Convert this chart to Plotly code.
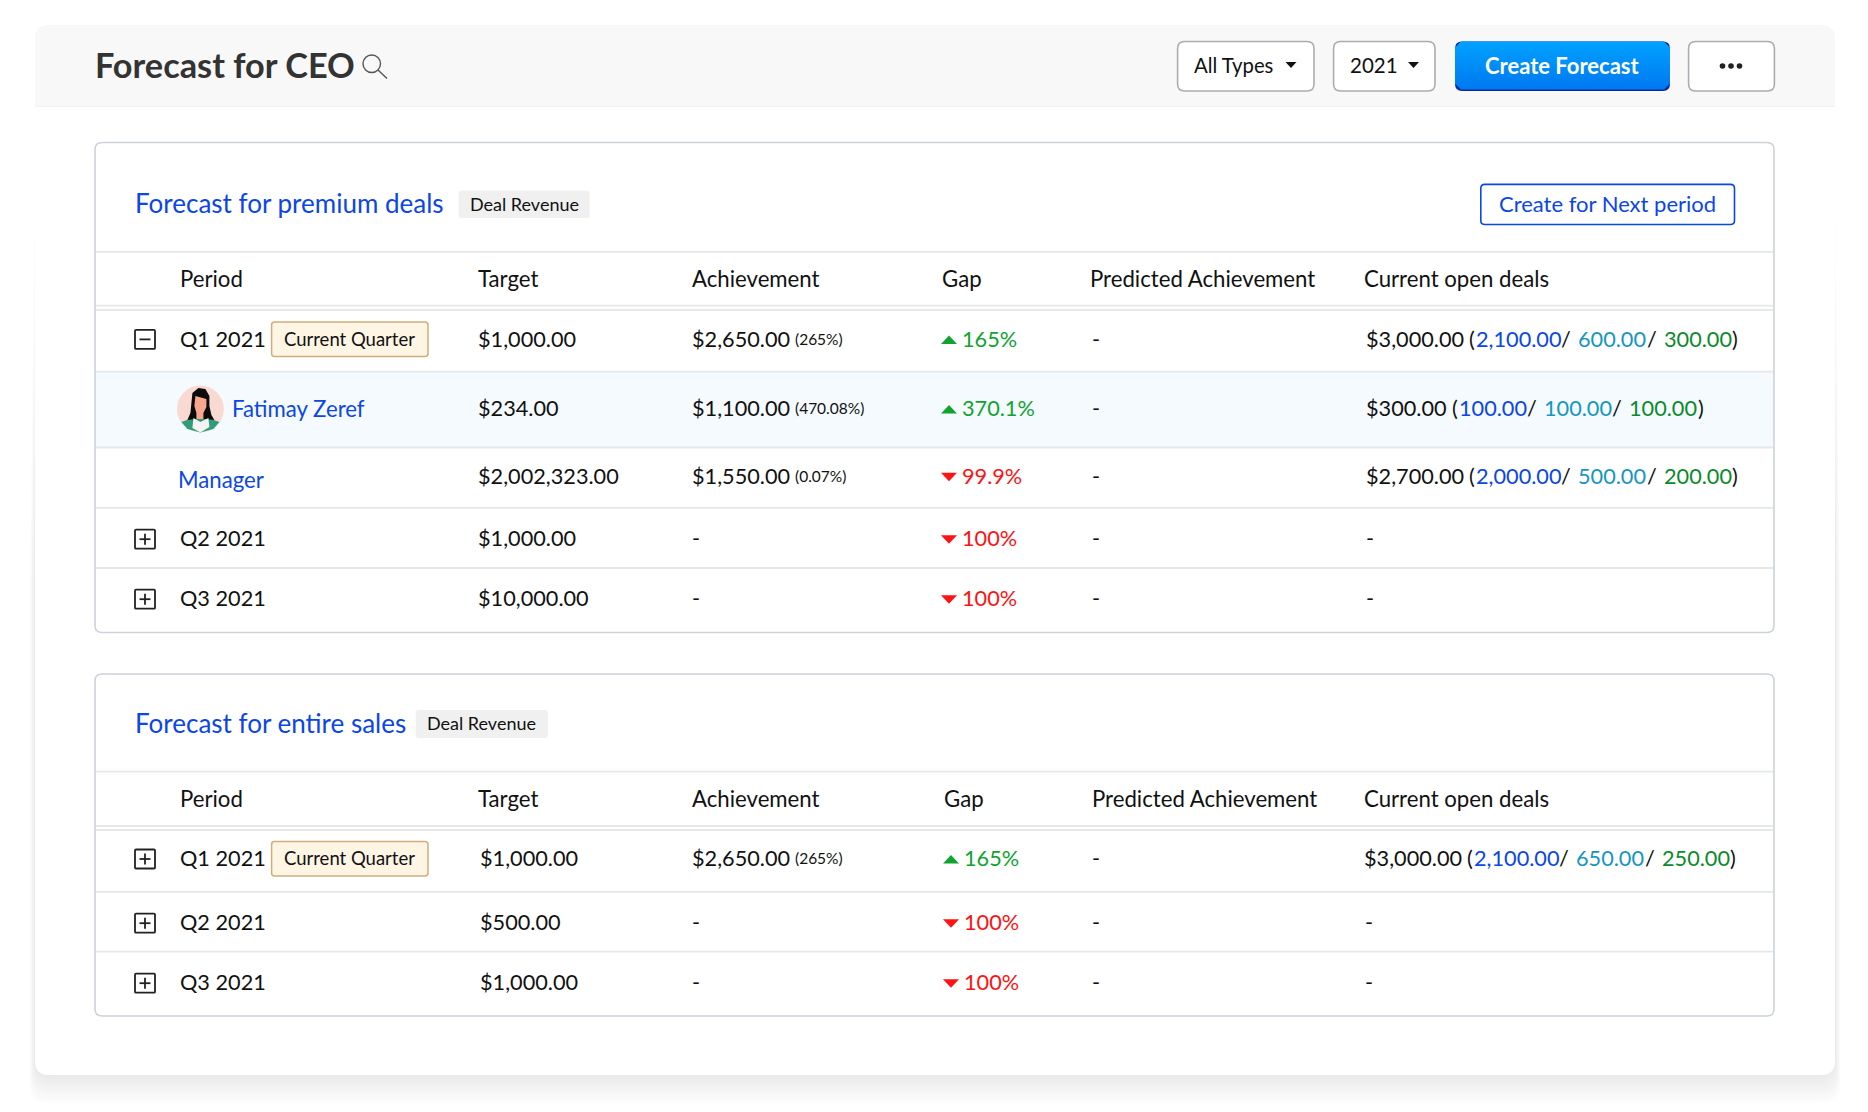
"""
Forecast for CEO panel, rebuilt with plotly shapes and annotations.
"""

import plotly.graph_objects as go

WIDTH, HEIGHT = 1868, 1112
FONT = "Lato"

INK = "#111111"
BLUE = "#0b46e6"
TEAL = "#1596c2"
DEAL_GREEN = "#0b8a2c"
UP = "#10a32f"
DOWN = "#ff1212"
RULE = "#e5e7e9"
EDGE = "#cdd2da"

COLUMNS = ["Period", "Target", "Achievement", "Gap", "Predicted Achievement", "Current open deals"]

# open deals are (total, blue part, teal part, green part)
PANELS = [
    {
        "title": "Forecast for premium deals",
        "box": (142.5, 632.5),
        "title_y": 203,
        "badge": (458.6, 589.6, 190.4, 218),
        "header_y": 278,
        "rules": [251.8, 305.7, 310, 371.6, 447.5, 507.8, 568],
        "gap_dx": 0,
        "target_x": 478.3,
        "deal_dx": 0,
        "rows": [
            dict(y=338.6, icon="-", period="Q1 2021", current=True, target="$1,000.00", achieved="$2,650.00", pct="(265%)",
                 gap=("up", "165%"), deals=("$3,000.00", "2,100.00", "600.00", "300.00")),
            dict(y=408.2, person="Fatimay Zeref", target="$234.00", achieved="$1,100.00", pct="(470.08%)",
                 gap=("up", "370.1%"), deals=("$300.00", "100.00", "100.00", "100.00")),
            dict(y=476, manager="Manager", target="$2,002,323.00", achieved="$1,550.00", pct="(0.07%)",
                 gap=("down", "99.9%"), deals=("$2,700.00", "2,000.00", "500.00", "200.00")),
            dict(y=538.4, icon="+", period="Q2 2021", target="$1,000.00", gap=("down", "100%")),
            dict(y=598.4, icon="+", period="Q3 2021", target="$10,000.00", gap=("down", "100%")),
        ],
    },
    {
        "title": "Forecast for entire sales",
        "box": (674, 1016),
        "title_y": 723,
        "badge": (415.7, 548, 710, 738),
        "header_y": 798,
        "rules": [771.6, 826, 830, 891.8, 951.7],
        "gap_dx": 2,
        "target_x": 479.8,
        "deal_dx": -2,
        "rows": [
            dict(y=858.2, icon="+", period="Q1 2021", current=True, target="$1,000.00", achieved="$2,650.00", pct="(265%)",
                 gap=("up", "165%"), deals=("$3,000.00", "2,100.00", "650.00", "250.00")),
            dict(y=922.4, icon="+", period="Q2 2021", target="$500.00", gap=("down", "100%")),
            dict(y=982.4, icon="+", period="Q3 2021", target="$1,000.00", gap=("down", "100%")),
        ],
    },
]

shapes = []
annotations = []


def rounded(x0, y0, x1, y1, r):
    return (f"M{x0+r},{y0} L{x1-r},{y0} Q{x1},{y0} {x1},{y0+r} L{x1},{y1-r} Q{x1},{y1} {x1-r},{y1} "
            f"L{x0+r},{y1} Q{x0},{y1} {x0},{y1-r} L{x0},{y0+r} Q{x0},{y0} {x0+r},{y0} Z")


def box(x0, y0, x1, y1, r=0, fill="rgba(0,0,0,0)", line=None, width=0, opacity=1):
    shapes.append(dict(type="path", path=rounded(x0, y0, x1, y1, r), fillcolor=fill, opacity=opacity,
                       line=dict(color=line or "rgba(0,0,0,0)", width=width), layer="below"))


def poly(points, fill):
    path = "M" + " L".join(f"{x},{y}" for x, y in points) + " Z"
    shapes.append(dict(type="path", path=path, fillcolor=fill, line=dict(width=0), layer="below"))


def seg(x0, y0, x1, y1, color, width):
    shapes.append(dict(type="line", x0=x0, y0=y0, x1=x1, y1=y1, line=dict(color=color, width=width), layer="below"))


def label(x, y, text, size=21.7, color=INK, anchor="left", weight=400):
    # annotations keep a small pad on the left, pull them back onto the measured x
    if anchor == "left":
        x -= 1
    annotations.append(dict(x=x, y=y, text=text, showarrow=False, xanchor=anchor, yanchor="middle",
                            xref="x", yref="y", borderpad=0,
                            font=dict(family=FONT, size=size, color=color, weight=weight)))


def draw_avatar(cx, cy):
    shapes.append(dict(type="circle", x0=cx-23.5, y0=cy-23.5, x1=cx+23.5, y1=cy+23.5,
                       fillcolor="#f9dad3", line=dict(width=0), layer="below"))
    # jacket, then hair, face and collar, all relative to the circle centre
    poly([(cx+dx, cy+dy) for dx, dy in [(-19, 13), (-8, 9), (8, 9), (19, 13), (13, 20), (0, 23.5), (-13, 20)]], "#2f9e78")
    poly([(cx+dx, cy+dy) for dx, dy in [(-2, -21), (5, -20), (9, -13), (9, -3), (11, 6), (14, 11), (5, 10), (-5, 10),
                                        (-13, 11), (-10, 4), (-9, -6), (-8, -16)]], "#0c0c0c")
    poly([(cx+dx, cy+dy) for dx, dy in [(-5, -13), (6, -10), (6, -2), (3, 4), (3, 10), (-4, 10), (-4, 4), (-6, -3)]], "#f6a78e")
    poly([(cx+dx, cy+dy) for dx, dy in [(-7, 9), (0, 13), (8, 9), (9, 18), (0, 23.5), (-8, 19)]], "#f3f3f3")


def draw_toggle(y, kind):
    x0, x1 = 135, 155
    y += 0.8
    box(x0, y - 9.5, x1, y + 9.5, r=1, line="#222222", width=1.8)
    seg(x0 + 4.5, y, x1 - 4.5, y, "#222222", 1.8)
    if kind == "+":
        seg((x0 + x1) / 2, y - 5.5, (x0 + x1) / 2, y + 5.5, "#222222", 1.8)


def draw_row(panel, row):
    y = row["y"]
    mid = y + 0.8  # badges and arrows sit on the row centre, text a touch above it
    if "icon" in row:
        draw_toggle(y, row["icon"])
        label(180, y, row["period"], size=21.7)
    if row.get("current"):
        top = mid - 17.5
        box(271.6, top, 428, top + 34.5, r=3, fill="#fff5e4", line="#cfae7c", width=1.5)
        label(284, y, "Current Quarter", size=18.5)
    if "person" in row:
        draw_avatar(200.4, mid)
        label(232, y, row["person"], size=22.2, color=BLUE)
    if "manager" in row:
        label(178.3, y + 3, row["manager"], size=22.2, color=BLUE)

    label(panel["target_x"], y, row["target"])
    if "achieved" in row:
        label(692, y, row["achieved"])
        label(795, y, row["pct"], size=15.5)
    else:
        label(692, y, "-")

    # gap arrow plus value
    dx = panel["gap_dx"]
    direction, value = row["gap"]
    if direction == "up":
        poly([(941 + dx, mid + 4.5), (957 + dx, mid + 4.5), (949 + dx, mid - 4)], UP)
    else:
        poly([(941 + dx, mid - 4), (957 + dx, mid - 4), (949 + dx, mid + 4.5)], DOWN)
    label(962 + dx, y, value, color=UP if direction == "up" else DOWN)

    label(1092.4, y, "-")
    if "deals" not in row:
        label(1366 + panel["deal_dx"] * 0.7, y, "-")
        return
    total, first, second, third = row["deals"]
    d = panel["deal_dx"]
    short = len(total) < 9  # the $300.00 row sits further left
    xs = ([1366.4, 1452, 1459, 1526.6, 1544, 1611.8, 1629, 1697.5] if short
          else [1366.4, 1469.4, 1476, 1560.6, 1578.4, 1647, 1663.6, 1732])
    parts = [(total, INK), ("(", INK), (first, BLUE), ("/", INK), (second, TEAL), ("/", INK), (third, DEAL_GREEN), (")", INK)]
    for px, (text, color) in zip(xs, parts):
        label(px + d, y, text, color=color)


fig = go.Figure()

# soft shadow, mostly under the card
for i in range(22):
    box(35 - 0.25 * i, 150 + 20 * i, 1835 + 0.25 * i, 1075 + 1.4 * i, r=18, fill="#6b7280", opacity=0.006)

box(35, 25, 1835, 1075, r=14, fill="#ffffff")
shapes.append(dict(type="path", path="M35,106 L35,39 Q35,25 49,25 L1821,25 Q1835,25 1835,39 L1835,106 Z",
                   fillcolor="#f8f8f8", line=dict(width=0), layer="below"))
seg(35, 106.5, 1835, 106.5, "#f2f2f2", 1)

# page header
label(95, 64.5, "Forecast for CEO", size=34.3, color="#333333", weight=700)
shapes.append(dict(type="circle", x0=363, y0=55, x1=380.5, y1=72.5, fillcolor="rgba(0,0,0,0)",
                   line=dict(color="#555555", width=1.4), layer="below"))
seg(378, 70, 387, 78.5, "#555555", 1.4)

for x0, x1 in [(1177.6, 1314), (1333.6, 1435), (1688.6, 1774.4)]:
    box(x0, 41.5, x1, 91, r=7, fill="#ffffff", line="#a9adb1", width=1.6)
label(1193.7, 65.2, "All Types", size=20.3)
label(1349.7, 65.2, "2021", size=20.5)
for cx in [1291, 1413.5]:
    poly([(cx - 5.5, 62), (cx + 5.5, 62), (cx, 68)], "#111111")
shapes.extend(dict(type="circle", x0=cx - 2.8, y0=63.2, x1=cx + 2.8, y1=68.8, fillcolor="#222222",
                   line=dict(width=0), layer="below") for cx in [1722.5, 1731, 1739.5])

box(1455, 41.5, 1670, 91, r=7, fill="#0a2a9e")
r = 6
xs = [1455 + r, 1670 - r, 1670, 1670, 1670 - r, 1455 + r, 1455, 1455, 1455 + r]
ys = [41.5, 41.5, 41.5 + r, 89.5 - r, 89.5, 89.5, 89.5 - r, 41.5 + r, 41.5]
fig.add_trace(go.Scatter(x=xs, y=ys, mode="lines", fill="toself", line=dict(width=0), hoverinfo="skip",
                         showlegend=False,
                         fillgradient=dict(type="vertical", colorscale=[[0, "#0078f0"], [1, "#00a2ff"]])))
label(1562.3, 65, "Create Forecast", size=22, color="#ffffff", anchor="center", weight=700)

for panel in PANELS:
    top, bottom = panel["box"]
    box(95, top, 1774, bottom, r=7, fill="#ffffff", line=EDGE, width=1.6)
    if panel["title"].endswith("premium deals"):
        shapes.append(dict(type="rect", x0=96, y0=372, x1=1773, y1=447, fillcolor="#f5faff",
                           line=dict(width=0), layer="below"))
        box(1480.8, 184.4, 1734.5, 224.5, r=4, fill="#ffffff", line=BLUE, width=1.6)
        label(1607, 203, "Create for Next period", size=22, color=BLUE, anchor="center")
    for y in panel["rules"]:
        seg(96, y, 1773, y, RULE, 1.8)

    label(134.8, panel["title_y"], panel["title"], size=26, color=BLUE)
    bx0, bx1, by0, by1 = panel["badge"]
    box(bx0, by0, bx1, by1, r=3, fill="#f0f0f0")
    label(bx0 + 11, (by0 + by1) / 2 - 0.7, "Deal Revenue", size=18)

    col_x = [180, 477.7, 692, 942.3 + panel["gap_dx"], 1089.6 + panel["gap_dx"], 1364]
    for x, name in zip(col_x, COLUMNS):
        label(x, panel["header_y"], name, size=22.2)
    for row in panel["rows"]:
        draw_row(panel, row)

fig.update_layout(
    width=WIDTH,
    height=HEIGHT,
    margin=dict(l=0, r=0, t=0, b=0),
    paper_bgcolor="#ffffff",
    plot_bgcolor="#ffffff",
    showlegend=False,
    shapes=shapes,
    annotations=annotations,
    xaxis=dict(range=[0, WIDTH], visible=False, fixedrange=True),
    yaxis=dict(range=[HEIGHT, 0], visible=False, fixedrange=True),
)

fig.write_html("out.html", config=dict(displayModeBar=False), post_script="document.body.style.margin='0';")
